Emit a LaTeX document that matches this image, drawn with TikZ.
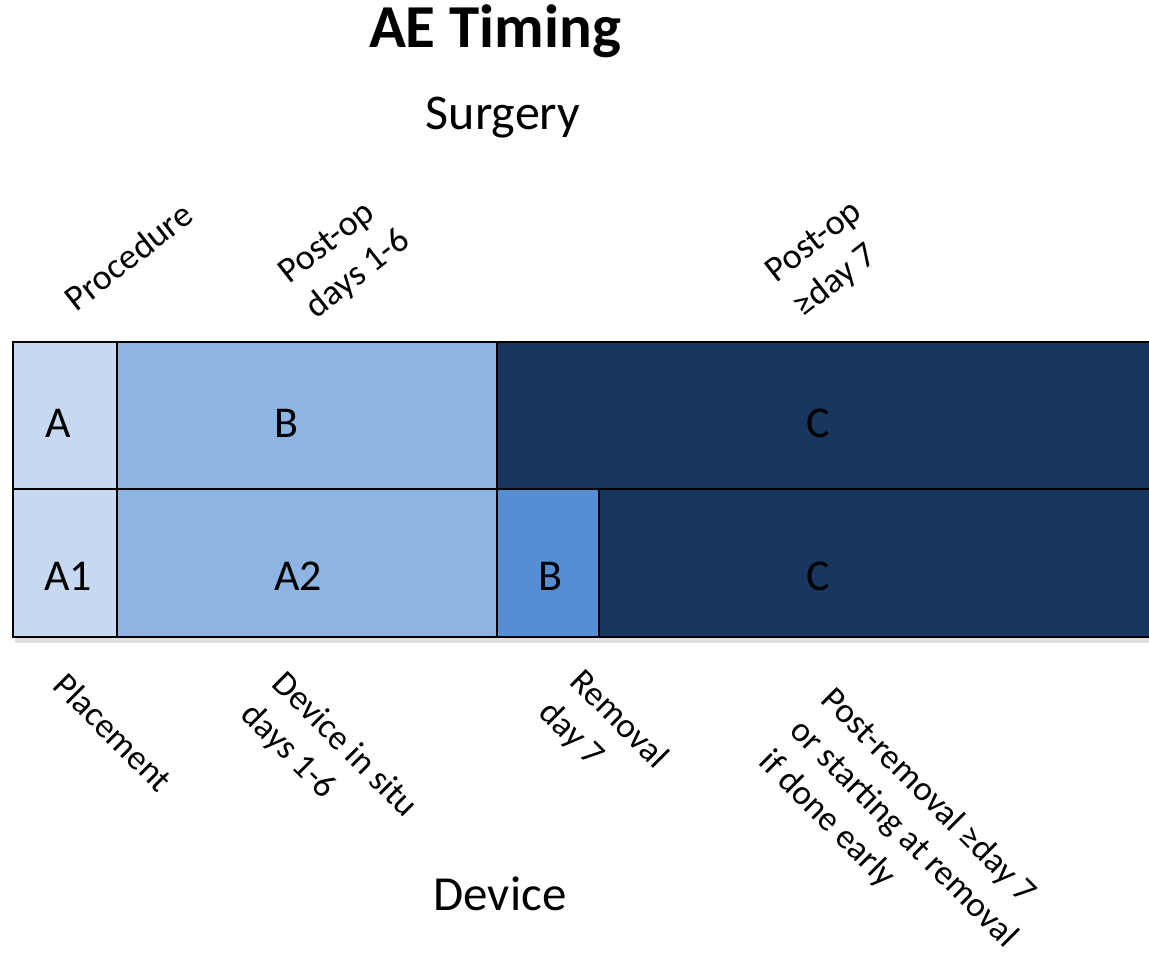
\documentclass[tikz,border=0pt]{standalone}
\usepackage{fontspec}
\setmainfont{Carlito}
\definecolor{cA}{HTML}{C6D9F1}
\definecolor{cB}{HTML}{8EB4E3}
\definecolor{cBB}{HTML}{558ED5}
\definecolor{cC}{HTML}{17375E}
\tikzset{
  cell/.style={draw=black, line width=1.4pt, anchor=north west, inner sep=0pt, outer sep=0pt},
  letter/.style={font=\fontsize{44}{50}\selectfont, anchor=base, inner sep=0pt},
  uplabel/.style={rotate=38, anchor=south west, align=left, inner sep=0pt, font=\fontsize{36}{44}\selectfont},
  downlabel/.style={rotate=-45, anchor=north west, align=left, inner sep=0pt, font=\fontsize{35}{44}\selectfont},
}
\begin{document}
\begin{tikzpicture}[x=1pt,y=-1pt]
\useasboundingbox (0,0) rectangle (1149,957);
\clip (0,0) rectangle (1149,957);
% title
\node[anchor=base, inner sep=0pt, font=\fontsize{61}{70}\selectfont\bfseries] (title) at (495,48) {AE Timing};
\node[anchor=base, inner sep=0pt, font=\fontsize{50}{60}\selectfont] (surgery) at (503,130) {Surgery};
\node[anchor=base, inner sep=0pt, font=\fontsize{49}{58}\selectfont] (device) at (500,910) {Device};
% shadow
\fill[black!12] (15,637) rectangle (1160,643);
% cells top row
\node[cell, fill=cA, minimum width=104pt, minimum height=147pt] (ta) at (13,342) {};
\node[cell, fill=cB, minimum width=380pt, minimum height=147pt] (tb) at (117,342) {};
\node[cell, fill=cC, minimum width=680pt, minimum height=147pt] (tc) at (497,342) {};
% cells bottom row
\node[cell, fill=cA, minimum width=104pt, minimum height=148pt] (ba) at (13,489) {};
\node[cell, fill=cB, minimum width=380pt, minimum height=148pt] (bb) at (117,489) {};
\node[cell, fill=cBB, minimum width=102pt, minimum height=148pt] (bbb) at (497,489) {};
\node[cell, fill=cC, minimum width=580pt, minimum height=148pt] (bc) at (599,489) {};
% letters
\node[letter] (lA) at (58,438) {A};
\node[letter] (lB) at (286,438) {B};
\node[letter] (lC) at (818,438) {C};
\node[letter] (lA1) at (68,590) {A1};
\node[letter] (lA2) at (298,590) {A2};
\node[letter] (lBB) at (550,590) {B};
\node[letter] (lCC) at (818,590) {C};
% upper labels
\node[uplabel] (proc) at (77,313) {Procedure};
\node[uplabel] (post1) at (320,324) {Post-op\\days 1-6};
\node[uplabel] (post2) at (807,323) {Post-op\\≥day 7};
% lower labels
\node[downlabel] (plac) at (69,670) {Placement};
\node[downlabel] (insitu) at (288,668) {Device in situ\\days 1-6};
\node[downlabel] (remov) at (586,666) {Removal\\day 7};
\node[downlabel] (postrem) at (837,684) {Post-removal ≥day 7\\or starting at removal\\if done early};
\end{tikzpicture}
\end{document}
